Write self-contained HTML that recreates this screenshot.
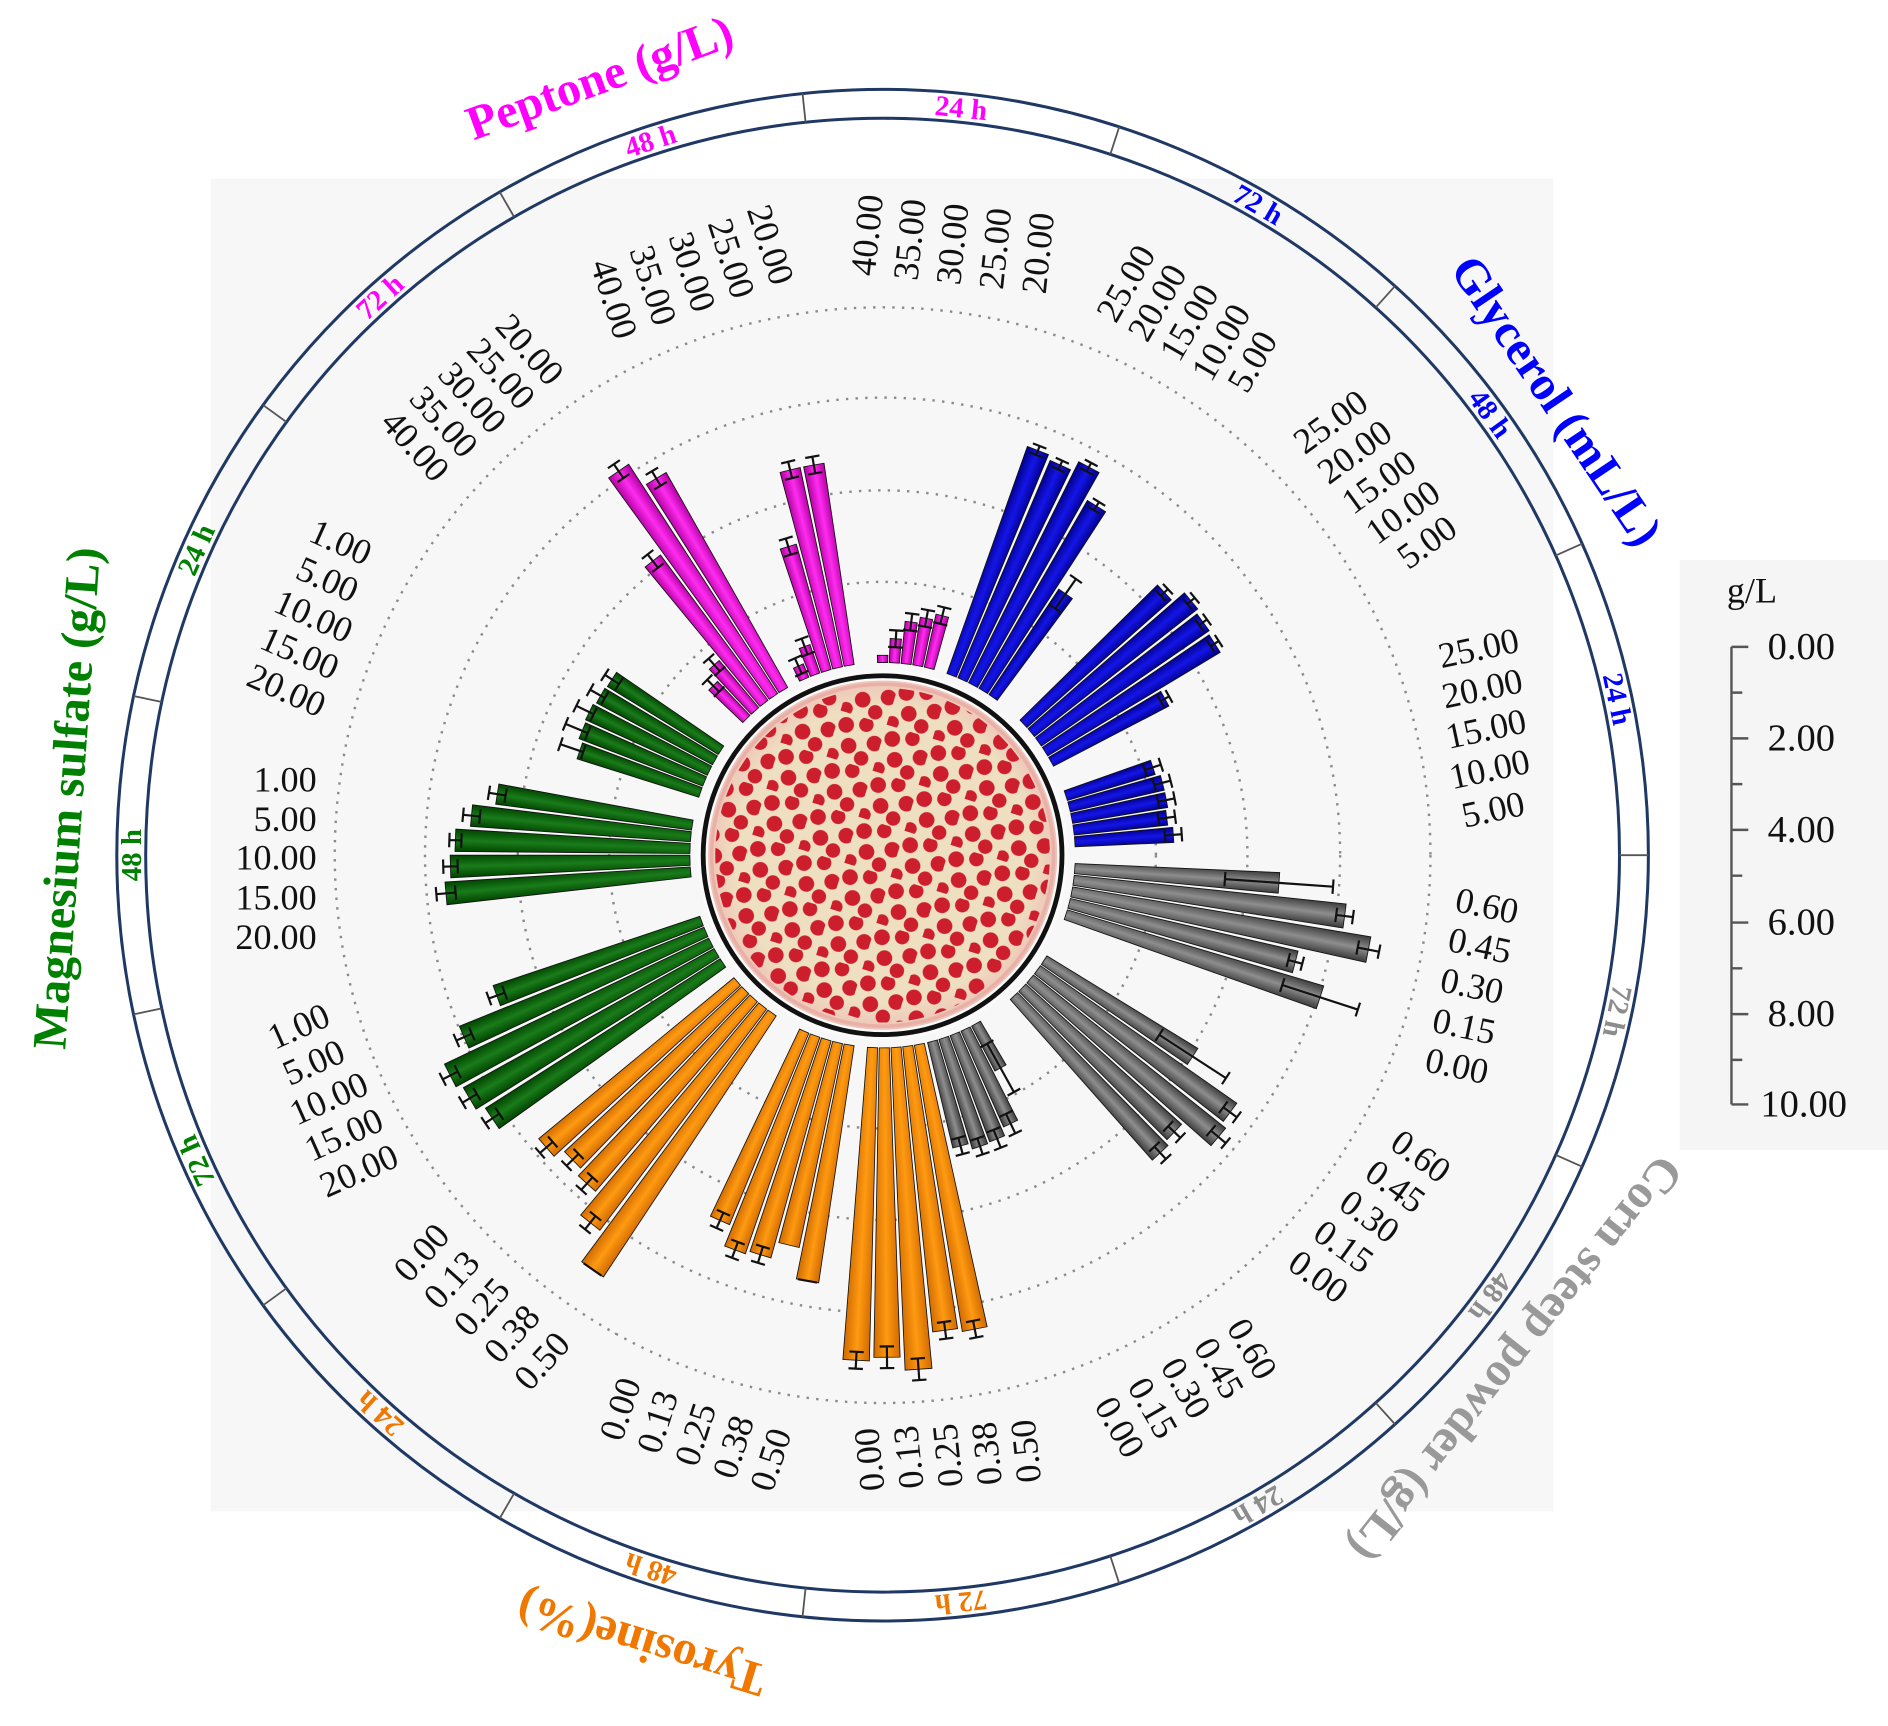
<!DOCTYPE html>
<html><head><meta charset="utf-8">
<style>html,body{margin:0;padding:0;background:#fff}svg{display:block}.e{fill:none;stroke:#111;stroke-width:1.8}</style>
</head><body>
<svg xmlns="http://www.w3.org/2000/svg" width="1888" height="1726" viewBox="0 0 1568 1433" font-family="'Liberation Serif', serif">
<defs>
<linearGradient id="gM" x1="0" x2="1" y1="0" y2="0"><stop offset="0" stop-color="#b0009f"/><stop offset="0.5" stop-color="#ff2cf0"/><stop offset="1" stop-color="#b0009f"/></linearGradient>
<linearGradient id="gB" x1="0" x2="1"><stop offset="0" stop-color="#00008a"/><stop offset="0.5" stop-color="#1515e8"/><stop offset="1" stop-color="#00008a"/></linearGradient>
<linearGradient id="gG" x1="0" x2="1"><stop offset="0" stop-color="#3a3a3a"/><stop offset="0.5" stop-color="#8e8e8e"/><stop offset="1" stop-color="#3a3a3a"/></linearGradient>
<linearGradient id="gO" x1="0" x2="1"><stop offset="0" stop-color="#d06a00"/><stop offset="0.5" stop-color="#ff9a12"/><stop offset="1" stop-color="#d06a00"/></linearGradient>
<linearGradient id="gV" x1="0" x2="1"><stop offset="0" stop-color="#004200"/><stop offset="0.5" stop-color="#1a7c1a"/><stop offset="1" stop-color="#004200"/></linearGradient>
<pattern id="dots" width="40" height="40" patternUnits="userSpaceOnUse" patternTransform="rotate(17)">
<g fill="#cc1e2c"><circle cx="8" cy="10" r="6.5"/><circle cx="24" cy="5" r="6"/><circle cx="35" cy="18" r="6.5"/><circle cx="15" cy="26" r="6.5"/><circle cx="28" cy="33" r="6"/><circle cx="4" cy="37" r="5.5"/></g>
</pattern>
<radialGradient id="agar"><stop offset="0.85" stop-color="#eedfc0"/><stop offset="1" stop-color="#efc4b8"/></radialGradient>
<clipPath id="dc"><circle cx="733" cy="710" r="139"/></clipPath>
</defs>

<rect x="175" y="148" width="1115" height="1107" fill="#f7f7f7"/>
<rect x="1395" y="465" width="173" height="490" fill="#f5f5f5"/>

<g fill="none" stroke="#8a8a8a" stroke-width="2" stroke-dasharray="2 6">
<circle cx="733" cy="710" r="227"/><circle cx="733" cy="710" r="303"/><circle cx="733" cy="710" r="380"/><circle cx="733" cy="710" r="455"/>
</g>

<g fill="none" stroke="#1f3864" stroke-width="2.5"><circle cx="733" cy="710" r="612"/><circle cx="733" cy="710" r="636"/></g>
<g stroke="#555" stroke-width="1.5">
<line x1="733" y1="98" x2="733" y2="74" transform="rotate(-6 733 710)"/>
<line x1="733" y1="98" x2="733" y2="74" transform="rotate(18 733 710)"/>
<line x1="733" y1="98" x2="733" y2="74" transform="rotate(42 733 710)"/>
<line x1="733" y1="98" x2="733" y2="74" transform="rotate(66 733 710)"/>
<line x1="733" y1="98" x2="733" y2="74" transform="rotate(90 733 710)"/>
<line x1="733" y1="98" x2="733" y2="74" transform="rotate(114 733 710)"/>
<line x1="733" y1="98" x2="733" y2="74" transform="rotate(138 733 710)"/>
<line x1="733" y1="98" x2="733" y2="74" transform="rotate(162 733 710)"/>
<line x1="733" y1="98" x2="733" y2="74" transform="rotate(186 733 710)"/>
<line x1="733" y1="98" x2="733" y2="74" transform="rotate(210 733 710)"/>
<line x1="733" y1="98" x2="733" y2="74" transform="rotate(234 733 710)"/>
<line x1="733" y1="98" x2="733" y2="74" transform="rotate(258 733 710)"/>
<line x1="733" y1="98" x2="733" y2="74" transform="rotate(282 733 710)"/>
<line x1="733" y1="98" x2="733" y2="74" transform="rotate(306 733 710)"/>
<line x1="733" y1="98" x2="733" y2="74" transform="rotate(330 733 710)"/>
</g>
<g font-size="24" font-weight="bold" text-anchor="middle">
<text x="733" y="94" fill="#ff00ff" transform="rotate(6 733 710)">24 h</text>
<text x="733" y="94" fill="#0000ff" transform="rotate(30 733 710)">72 h</text>
<text x="733" y="94" fill="#0000ff" transform="rotate(54 733 710)">48 h</text>
<text x="733" y="94" fill="#0000ff" transform="rotate(78 733 710)">24 h</text>
<text x="733" y="94" fill="#8c8c8c" transform="rotate(102 733 710)">72 h</text>
<text x="733" y="94" fill="#8c8c8c" transform="rotate(126 733 710)">48 h</text>
<text x="733" y="94" fill="#8c8c8c" transform="rotate(150 733 710)">24 h</text>
<text x="733" y="94" fill="#f07800" transform="rotate(174 733 710)">72 h</text>
<text x="733" y="94" fill="#f07800" transform="rotate(198 733 710)">48 h</text>
<text x="733" y="94" fill="#f07800" transform="rotate(222 733 710)">24 h</text>
<text x="733" y="94" fill="#008000" transform="rotate(246 733 710)">72 h</text>
<text x="733" y="94" fill="#008000" transform="rotate(270 733 710)">48 h</text>
<text x="733" y="94" fill="#008000" transform="rotate(294 733 710)">24 h</text>
<text x="733" y="94" fill="#ff00ff" transform="rotate(318 733 710)">72 h</text>
<text x="733" y="94" fill="#ff00ff" transform="rotate(342 733 710)">48 h</text>
</g>
<g font-size="40" font-weight="bold" text-anchor="middle">
<text x="733" y="36" fill="#ff00ff" transform="rotate(-20 733 710)">Peptone (g/L)</text>
<text x="733" y="48" fill="#0000ff" transform="rotate(56 733 710)">Glycerol (mL/L)</text>
<text x="733" y="51" fill="#999999" transform="rotate(128.5 733 710)">Corn steep powder (g/L)</text>
<text x="733" y="38" fill="#f07800" transform="rotate(197 733 710)">Tyrosine(%)</text>
<text x="733" y="44" fill="#008000" transform="rotate(274 733 710)">Magnesium sulfate (g/L)</text>
</g>

<!-- bars -->
<g stroke="#111" stroke-width="0.7">
<g transform="translate(733 710) rotate(322)" fill="url(#gM)">
<g transform="rotate(-7)"><path d="M-4.2 -160L-5.2 -199H5.2L4.2 -160Z"/><path class="e" d="M-6 -206h12m-6 0v14m-6 0h12"/></g>
<g transform="rotate(-3.5)"><path d="M-4.2 -160L-5.5 -211H5.5L4.2 -160Z"/><path class="e" d="M-6 -218h12m-6 0v14m-6 0h12"/></g>
<g><path d="M-4.2 -160L-8.1 -310H8.1L4.2 -160Z"/><path class="e" d="M-6 -317h12m-6 0v14m-6 0h12"/></g>
<g transform="rotate(3.5)"><path d="M-4.2 -160L-10.1 -387H10.1L4.2 -160Z"/><path class="e" d="M-6 -394h12m-6 0v14m-6 0h12"/></g>
<g transform="rotate(7)"><path d="M-4.2 -160L-9.6 -365H9.6L4.2 -160Z"/><path class="e" d="M-6 -372h12m-6 0v14m-6 0h12"/></g>
</g>
<g transform="translate(733 710) rotate(343)" fill="url(#gM)">
<g transform="rotate(-7)"><path d="M-4.2 -160L-4.5 -172H4.5L4.2 -160Z"/><path class="e" d="M-6 -179h12m-6 0v14m-6 0h12"/></g>
<g transform="rotate(-3.5)"><path d="M-4.2 -160L-4.8 -185H4.8L4.2 -160Z"/><path class="e" d="M-6 -192h12m-6 0v14m-6 0h12"/></g>
<g><path d="M-4.2 -160L-7 -268H7L4.2 -160Z"/><path class="e" d="M-6 -275h12m-6 0v14m-6 0h12"/></g>
<g transform="rotate(3.5)"><path d="M-4.2 -160L-8.6 -329H8.6L4.2 -160Z"/><path class="e" d="M-6 -336h12m-6 0v14m-6 0h12"/></g>
<g transform="rotate(7)"><path d="M-4.2 -160L-8.6 -329H8.6L4.2 -160Z"/><path class="e" d="M-6 -336h12m-6 0v14m-6 0h12"/></g>
</g>
<g transform="translate(733 710) rotate(7)" fill="url(#gM)">
<g transform="rotate(-7)"><path d="M-4.2 -160L-4.4 -166H4.4L4.2 -160Z"/></g>
<g transform="rotate(-3.5)"><path d="M-4.2 -160L-4.7 -180H4.7L4.2 -160Z"/><path class="e" d="M-6 -187h12m-6 0v14m-6 0h12"/></g>
<g><path d="M-4.2 -160L-5.1 -195H5.1L4.2 -160Z"/><path class="e" d="M-6 -202h12m-6 0v14m-6 0h12"/></g>
<g transform="rotate(3.5)"><path d="M-4.2 -160L-5.2 -200H5.2L4.2 -160Z"/><path class="e" d="M-6 -207h12m-6 0v14m-6 0h12"/></g>
<g transform="rotate(7)"><path d="M-4.2 -160L-5.4 -205H5.4L4.2 -160Z"/><path class="e" d="M-6 -212h12m-6 0v14m-6 0h12"/></g>
</g>
<g transform="translate(733 710) rotate(28)" fill="url(#gB)">
<g transform="rotate(-7)"><path d="M-4.2 -160L-9.4 -360H9.4L4.2 -160Z"/><path class="e" d="M-6 -364h12m-6 0v8m-6 0h12"/></g>
<g transform="rotate(-3.5)"><path d="M-4.2 -160L-9.3 -356H9.3L4.2 -160Z"/><path class="e" d="M-6 -360h12m-6 0v8m-6 0h12"/></g>
<g><path d="M-4.2 -160L-9.6 -365H9.6L4.2 -160Z"/><path class="e" d="M-6 -369h12m-6 0v8m-6 0h12"/></g>
<g transform="rotate(3.5)"><path d="M-4.2 -160L-8.9 -340H8.9L4.2 -160Z"/><path class="e" d="M-6 -344h12m-6 0v8m-6 0h12"/></g>
<g transform="rotate(7)"><path d="M-4.2 -160L-6.9 -265H6.9L4.2 -160Z"/><path class="e" d="M-6 -280h12m-6 0v30m-6 0h12"/></g>
</g>
<g transform="translate(733 710) rotate(54)" fill="url(#gB)">
<g transform="rotate(-7)"><path d="M-4.2 -160L-8.4 -320H8.4L4.2 -160Z"/><path class="e" d="M-6 -324h12m-6 0v8m-6 0h12"/></g>
<g transform="rotate(-3.5)"><path d="M-4.2 -160L-8.7 -332H8.7L4.2 -160Z"/><path class="e" d="M-6 -336h12m-6 0v8m-6 0h12"/></g>
<g><path d="M-4.2 -160L-8.6 -329H8.6L4.2 -160Z"/><path class="e" d="M-6 -333h12m-6 0v8m-6 0h12"/></g>
<g transform="rotate(3.5)"><path d="M-4.2 -160L-8.6 -327H8.6L4.2 -160Z"/><path class="e" d="M-6 -331h12m-6 0v8m-6 0h12"/></g>
<g transform="rotate(7)"><path d="M-4.2 -160L-7 -268H7L4.2 -160Z"/><path class="e" d="M-6 -272h12m-6 0v8m-6 0h12"/></g>
</g>
<g transform="translate(733 710) rotate(79)" fill="url(#gB)">
<g transform="rotate(-7)"><path d="M-4.2 -160L-6.2 -236H6.2L4.2 -160Z"/><path class="e" d="M-6 -243h12m-6 0v14m-6 0h12"/></g>
<g transform="rotate(-3.5)"><path d="M-4.2 -160L-6.3 -240H6.3L4.2 -160Z"/><path class="e" d="M-6 -247h12m-6 0v14m-6 0h12"/></g>
<g><path d="M-4.2 -160L-6.3 -240H6.3L4.2 -160Z"/><path class="e" d="M-6 -247h12m-6 0v14m-6 0h12"/></g>
<g transform="rotate(3.5)"><path d="M-4.2 -160L-6.2 -238H6.2L4.2 -160Z"/><path class="e" d="M-6 -245h12m-6 0v14m-6 0h12"/></g>
<g transform="rotate(7)"><path d="M-4.2 -160L-6.3 -242H6.3L4.2 -160Z"/><path class="e" d="M-6 -249h12m-6 0v14m-6 0h12"/></g>
</g>
<!-- Corn 72h -->
<g transform="translate(733 710) rotate(101)" fill="url(#gG)">
<g transform="rotate(-7)"><path d="M-4.2 -160L-8.6 -330H8.6L4.2 -160Z"/><path class="e" d="M-6 -375h12m-6 0v90m-6 0h12"/></g>
<g transform="rotate(-3.5)"><path d="M-4.2 -160L-10.1 -387H10.1L4.2 -160Z"/><path class="e" d="M-6 -394h12m-6 0v14m-6 0h12"/></g>
<g><path d="M-4.2 -160L-10.8 -411H10.8L4.2 -160Z"/><path class="e" d="M-6 -420h12m-6 0v18m-6 0h12"/></g>
<g transform="rotate(3.5)"><path d="M-4.2 -160L-9.3 -354H9.3L4.2 -160Z"/><path class="e" d="M-6 -360h12m-6 0v12m-6 0h12"/></g>
<g transform="rotate(7)"><path d="M-4.2 -160L-10 -382H10L4.2 -160Z"/><path class="e" d="M-6 -415h12m-6 0v66m-6 0h12"/></g>
</g>
<!-- Corn 48h -->
<g transform="translate(733 710) rotate(130)" fill="url(#gG)">
<g transform="rotate(-7)"><path d="M-4.2 -160L-8 -307H8L4.2 -160Z"/><path class="e" d="M-6 -340h12m-6 0v66m-6 0h12"/></g>
<g transform="rotate(-3.5)"><path d="M-4.2 -160L-9.4 -359H9.4L4.2 -160Z"/><path class="e" d="M-6 -366h12m-6 0v14m-6 0h12"/></g>
<g><path d="M-4.2 -160L-9.5 -364H9.5L4.2 -160Z"/><path class="e" d="M-6 -372h12m-6 0v16m-6 0h12"/></g>
<g transform="rotate(3.5)"><path d="M-4.2 -160L-8.8 -334H8.8L4.2 -160Z"/><path class="e" d="M-6 -341h12m-6 0v14m-6 0h12"/></g>
<g transform="rotate(7)"><path d="M-4.2 -160L-8.9 -338H8.9L4.2 -160Z"/><path class="e" d="M-6 -345h12m-6 0v14m-6 0h12"/></g>
</g>
<!-- Corn 24h -->
<g transform="translate(733 710) rotate(158)" fill="url(#gG)">
<g transform="rotate(-7)"><path d="M-4.2 -160L-5.3 -202H5.3L4.2 -160Z"/><path class="e" d="M-6 -225h12m-6 0v46m-6 0h12"/></g>
<g transform="rotate(-3.5)"><path d="M-4.2 -160L-6.5 -247H6.5L4.2 -160Z"/><path class="e" d="M-6 -256h12m-6 0v18m-6 0h12"/></g>
<g><path d="M-4.2 -160L-6.7 -254H6.7L4.2 -160Z"/><path class="e" d="M-6 -262h12m-6 0v16m-6 0h12"/></g>
<g transform="rotate(3.5)"><path d="M-4.2 -160L-6.7 -255H6.7L4.2 -160Z"/><path class="e" d="M-6 -262h12m-6 0v14m-6 0h12"/></g>
<g transform="rotate(7)"><path d="M-4.2 -160L-6.6 -250H6.6L4.2 -160Z"/><path class="e" d="M-6 -257h12m-6 0v14m-6 0h12"/></g>
</g>
<g transform="translate(733 710) rotate(176)" fill="url(#gO)">
<g transform="rotate(-7)"><path d="M-4.2 -160L-10.5 -401H10.5L4.2 -160Z"/><path class="e" d="M-6 -408h12m-6 0v14m-6 0h12"/></g>
<g transform="rotate(-3.5)"><path d="M-4.2 -160L-10.4 -398H10.4L4.2 -160Z"/><path class="e" d="M-6 -405h12m-6 0v14m-6 0h12"/></g>
<g><path d="M-4.2 -160L-11.2 -428H11.2L4.2 -160Z"/><path class="e" d="M-6 -437h12m-6 0v18m-6 0h12"/></g>
<g transform="rotate(3.5)"><path d="M-4.2 -160L-10.9 -417H10.9L4.2 -160Z"/><path class="e" d="M-6 -426h12m-6 0v18m-6 0h12"/></g>
<g transform="rotate(7)"><path d="M-4.2 -160L-11 -420H11L4.2 -160Z"/><path class="e" d="M-6 -427h12m-6 0v14m-6 0h12"/></g>
</g>
<g transform="translate(733 710) rotate(197)" fill="url(#gO)">
<g transform="rotate(-7)"><path d="M-4.2 -160L-9.4 -359H9.4L4.2 -160Z"/><path class="e" d="M-8 -359h16"/></g>
<g transform="rotate(-3.5)"><path d="M-4.2 -160L-8.7 -333H8.7L4.2 -160Z"/></g>
<g><path d="M-4.2 -160L-9.1 -347H9.1L4.2 -160Z"/><path class="e" d="M-6 -354h12m-6 0v14m-6 0h12"/></g>
<g transform="rotate(3.5)"><path d="M-4.2 -160L-9.2 -350H9.2L4.2 -160Z"/><path class="e" d="M-6 -357h12m-6 0v14m-6 0h12"/></g>
<g transform="rotate(7)"><path d="M-4.2 -160L-8.7 -332H8.7L4.2 -160Z"/><path class="e" d="M-6 -339h12m-6 0v14m-6 0h12"/></g>
</g>
<g transform="translate(733 710) rotate(222)" fill="url(#gO)">
<g transform="rotate(-7)"><path d="M-4.2 -160L-11 -420H11L4.2 -160Z"/><path class="e" d="M-9 -420h18"/></g>
<g transform="rotate(-3.5)"><path d="M-4.2 -160L-10.2 -390H10.2L4.2 -160Z"/><path class="e" d="M-6 -397h12m-6 0v14m-6 0h12"/></g>
<g><path d="M-4.2 -160L-9.6 -367H9.6L4.2 -160Z"/><path class="e" d="M-6 -374h12m-6 0v14m-6 0h12"/></g>
<g transform="rotate(3.5)"><path d="M-4.2 -160L-9.5 -361H9.5L4.2 -160Z"/><path class="e" d="M-6 -368h12m-6 0v14m-6 0h12"/></g>
<g transform="rotate(7)"><path d="M-4.2 -160L-9.7 -370H9.7L4.2 -160Z"/><path class="e" d="M-6 -377h12m-6 0v14m-6 0h12"/></g>
</g>
<g transform="translate(733 710) rotate(243)" fill="url(#gV)">
<g transform="rotate(-7)"><path d="M-4.2 -160L-10.2 -391H10.2L4.2 -160Z"/><path class="e" d="M-6 -398h12m-6 0v14m-6 0h12"/></g>
<g transform="rotate(-3.5)"><path d="M-4.2 -160L-10.4 -398H10.4L4.2 -160Z"/><path class="e" d="M-6 -405h12m-6 0v14m-6 0h12"/></g>
<g><path d="M-4.2 -160L-10.6 -403H10.6L4.2 -160Z"/><path class="e" d="M-6 -410h12m-6 0v14m-6 0h12"/></g>
<g transform="rotate(3.5)"><path d="M-4.2 -160L-9.9 -379H9.9L4.2 -160Z"/><path class="e" d="M-6 -386h12m-6 0v14m-6 0h12"/></g>
<g transform="rotate(7)"><path d="M-4.2 -160L-8.9 -341H8.9L4.2 -160Z"/><path class="e" d="M-6 -348h12m-6 0v14m-6 0h12"/></g>
</g>
<g transform="translate(733 710) rotate(272)" fill="url(#gV)">
<g transform="rotate(-7)"><path d="M-4.2 -160L-9.5 -364H9.5L4.2 -160Z"/><path class="e" d="M-6 -372h12m-6 0v16m-6 0h12"/></g>
<g transform="rotate(-3.5)"><path d="M-4.2 -160L-9.4 -359H9.4L4.2 -160Z"/><path class="e" d="M-6 -365h12m-6 0v12m-6 0h12"/></g>
<g><path d="M-4.2 -160L-9.3 -355H9.3L4.2 -160Z"/><path class="e" d="M-6 -360h12m-6 0v10m-6 0h12"/></g>
<g transform="rotate(3.5)"><path d="M-4.2 -160L-9 -343H9L4.2 -160Z"/><path class="e" d="M-6 -350h12m-6 0v14m-6 0h12"/></g>
<g transform="rotate(7)"><path d="M-4.2 -160L-8.5 -324H8.5L4.2 -160Z"/><path class="e" d="M-6 -331h12m-6 0v14m-6 0h12"/></g>
</g>
<g transform="translate(733 710) rotate(296)" fill="url(#gV)">
<g transform="rotate(-7)"><path d="M-4.2 -160L-7 -266H7L4.2 -160Z"/><path class="e" d="M-6 -283h12m-6 0v20m-6 0h12"/></g>
<g transform="rotate(-3.5)"><path d="M-4.2 -160L-7.1 -270H7.1L4.2 -160Z"/><path class="e" d="M-6 -285h12m-6 0v20m-6 0h12"/></g>
<g><path d="M-4.2 -160L-7.1 -271H7.1L4.2 -160Z"/><path class="e" d="M-6 -283h12m-6 0v16m-6 0h12"/></g>
<g transform="rotate(3.5)"><path d="M-4.2 -160L-7 -269H7L4.2 -160Z"/><path class="e" d="M-6 -279h12m-6 0v14m-6 0h12"/></g>
<g transform="rotate(7)"><path d="M-4.2 -160L-7 -268H7L4.2 -160Z"/><path class="e" d="M-6 -275h12m-6 0v14m-6 0h12"/></g>
</g>
</g>

<!-- dish -->
<circle cx="733" cy="710" r="154" fill="#fafafa"/>
<circle cx="733" cy="710" r="145" fill="url(#agar)"/>
<g clip-path="url(#dc)">
<rect x="590" y="570" width="290" height="290" fill="url(#dots)"/>
</g>
<circle cx="733" cy="710" r="142" fill="none" stroke="#e9b0a8" stroke-width="3"/>
<circle cx="733" cy="710" r="149" fill="none" stroke="#111" stroke-width="4"/>

<!-- tick labels -->
<g font-size="30" fill="#111" text-anchor="middle" dominant-baseline="central">
<text transform="translate(720 195) rotate(-84)">40.00</text><text transform="translate(755.5 198.75) rotate(-84)">35.00</text><text transform="translate(791 202.5) rotate(-84)">30.00</text><text transform="translate(826.5 206.25) rotate(-84)">25.00</text><text transform="translate(862 210) rotate(-84)">20.00</text>
<text transform="translate(640 203) rotate(72)">20.00</text><text transform="translate(607.5 214.25) rotate(72)">25.00</text><text transform="translate(575 225.5) rotate(72)">30.00</text><text transform="translate(542.5 236.75) rotate(72)">35.00</text><text transform="translate(510 248) rotate(72)">40.00</text>
<text transform="translate(440 290) rotate(48)">20.00</text><text transform="translate(416.25 310) rotate(48)">25.00</text><text transform="translate(392.5 330) rotate(48)">30.00</text><text transform="translate(368.75 350) rotate(48)">35.00</text><text transform="translate(345 370) rotate(48)">40.00</text>
<text transform="translate(935 235) rotate(-60)">25.00</text><text transform="translate(961 251) rotate(-60)">20.00</text><text transform="translate(987.5 267.5) rotate(-60)">15.00</text><text transform="translate(1014 284) rotate(-60)">10.00</text><text transform="translate(1040 300) rotate(-60)">5.00</text>
<text transform="translate(1105 350) rotate(-36)">25.00</text><text transform="translate(1125 375) rotate(-36)">20.00</text><text transform="translate(1145 400) rotate(-36)">15.00</text><text transform="translate(1165 425) rotate(-36)">10.00</text><text transform="translate(1185 450) rotate(-36)">5.00</text>
<text transform="translate(1228 538) rotate(-12)">25.00</text><text transform="translate(1231 571.5) rotate(-12)">20.00</text><text transform="translate(1234 605) rotate(-12)">15.00</text><text transform="translate(1237 638.5) rotate(-12)">10.00</text><text transform="translate(1240 672) rotate(-12)">5.00</text>
<text transform="translate(1235 752) rotate(12)">0.60</text><text transform="translate(1229 785) rotate(12)">0.45</text><text transform="translate(1222.5 818.5) rotate(12)">0.30</text><text transform="translate(1216 852) rotate(12)">0.15</text><text transform="translate(1210 885) rotate(12)">0.00</text>
<text transform="translate(1180 960) rotate(36)">0.60</text><text transform="translate(1159 985) rotate(36)">0.45</text><text transform="translate(1137.5 1010) rotate(36)">0.30</text><text transform="translate(1116 1035) rotate(36)">0.15</text><text transform="translate(1095 1060) rotate(36)">0.00</text>
<text transform="translate(1040 1120) rotate(60)">0.60</text><text transform="translate(1012.5 1136) rotate(60)">0.45</text><text transform="translate(985 1152.5) rotate(60)">0.30</text><text transform="translate(957.5 1169) rotate(60)">0.15</text><text transform="translate(930 1185) rotate(60)">0.00</text>
<text transform="translate(722 1212) rotate(-96)">0.00</text><text transform="translate(754.5 1210) rotate(-96)">0.13</text><text transform="translate(787 1208.5) rotate(-96)">0.25</text><text transform="translate(819.5 1207) rotate(-96)">0.38</text><text transform="translate(852 1205) rotate(-96)">0.50</text>
<text transform="translate(515 1170) rotate(-72)">0.00</text><text transform="translate(546 1180.5) rotate(-72)">0.13</text><text transform="translate(577.5 1191) rotate(-72)">0.25</text><text transform="translate(609 1201.5) rotate(-72)">0.38</text><text transform="translate(640 1212) rotate(-72)">0.50</text>
<text transform="translate(350 1040) rotate(-48)">0.00</text><text transform="translate(375 1062.5) rotate(-48)">0.13</text><text transform="translate(400 1085) rotate(-48)">0.25</text><text transform="translate(425 1107.5) rotate(-48)">0.38</text><text transform="translate(450 1130) rotate(-48)">0.50</text>
<text transform="translate(248 852) rotate(-24)">1.00</text><text transform="translate(260.5 882) rotate(-24)">5.00</text><text transform="translate(273 912) rotate(-24)">10.00</text><text transform="translate(285.5 942) rotate(-24)">15.00</text><text transform="translate(298 972) rotate(-24)">20.00</text>
<text transform="translate(283 450) rotate(24)">1.00</text><text transform="translate(272 481) rotate(24)">5.00</text><text transform="translate(260.5 511.5) rotate(24)">10.00</text><text transform="translate(249 542) rotate(24)">15.00</text><text transform="translate(238 573) rotate(24)">20.00</text>
</g>
<g font-size="30" fill="#111" text-anchor="end" dominant-baseline="central">
<text x="263" y="647">1.00</text><text x="263" y="680">5.00</text><text x="263" y="712">10.00</text><text x="263" y="745">15.00</text><text x="263" y="778">20.00</text>
</g>

<!-- legend -->
<text x="1455" y="500" font-size="30" fill="#111" text-anchor="middle">g/L</text>
<g stroke="#555" stroke-width="2" fill="none">
<path d="M1438 537V917"/>
<path d="M1438 537h14M1438 613h14M1438 689h14M1438 766h14M1438 842h14M1438 917h14"/>
<path d="M1438 575h9M1438 651h9M1438 727h9M1438 804h9M1438 880h9"/>
</g>
<g font-size="32" fill="#111" dominant-baseline="central">
<text x="1468" y="537">0.00</text><text x="1468" y="613">2.00</text><text x="1468" y="689">4.00</text><text x="1468" y="766">6.00</text><text x="1468" y="842">8.00</text><text x="1462" y="917">10.00</text>
</g>
</svg>
</body></html>
